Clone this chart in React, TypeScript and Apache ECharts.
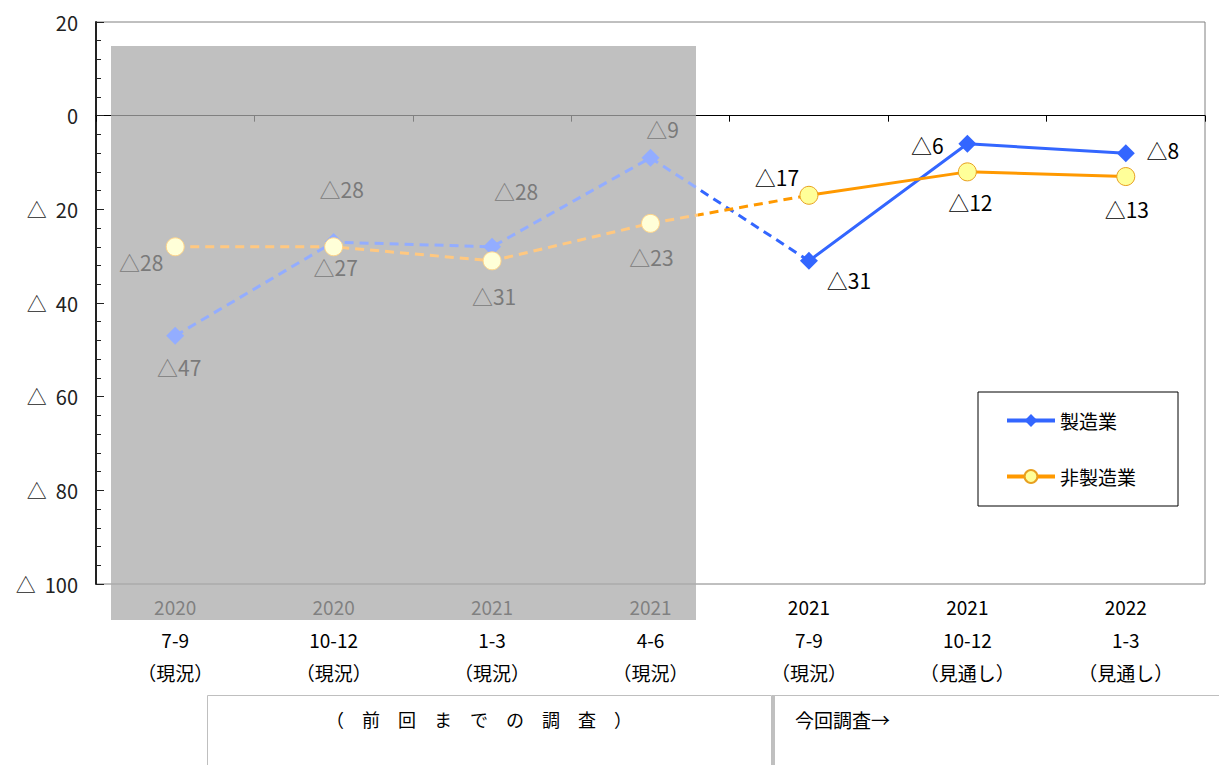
import React, { useEffect, useRef } from "react";
import * as echarts from "echarts";

// Quarterly business sentiment (DI), manufacturing vs non-manufacturing
const years = ["2020", "2020", "2021", "2021", "2021", "2021", "2022"];
const quarters = ["7-9", "10-12", "1-3", "4-6", "7-9", "10-12", "1-3"];
const phases = ["（現況）", "（現況）", "（現況）", "（現況）", "（現況）", "（見通し）", "（見通し）"];

// Previous surveys (first four quarters) and the current survey (last three)
const mfgPrev = [-47, -27, -28, -9];
const mfgCurr = [-31, -6, -8];
const nonMfgPrev = [-28, -28, -31, -23];
const nonMfgCurr = [-17, -12, -13];

const yTicks = [20, 0, -20, -40, -60, -80, -100];

// label offsets [dx, dy] from each point's centre
const mfgLabelOffsets = [[4, 31], [2, 25], [24, -56], [12, -29], [40, 19], [-40, 1], [37, -3]];
const nonMfgLabelOffsets = [[-34, 15], [8, -58], [2, 35], [1, 34], [-32, -18], [3, 30], [1, 32]];

const BLUE = "#3366ff";
const BLUE_FADED = "#93adff";
const ORANGE = "#ff9900";
const ORANGE_FADED = "#ffc880";
const FONT = "'Noto Sans CJK JP', 'Noto Sans', sans-serif";

const tri = (v: number) => (v < 0 ? "△" + Math.abs(v) : String(v));

const nCat = years.length;
const nPrev = mfgPrev.length;

function padded(values: number[], start: number) {
  const out: (number | string)[] = Array(nCat).fill("-");
  values.forEach((v, i) => (out[start + i] = v));
  return out;
}

function labelled(values: number[], start: number, offsets: number[][], color: string) {
  const out: any[] = Array(nCat).fill("-");
  values.forEach((v, i) => {
    out[start + i] = {
      value: v,
      label: {
        show: true,
        position: "inside",
        offset: offsets[start + i],
        formatter: () => tri(v),
        color,
        fontSize: 21,
        fontFamily: FONT,
      },
    };
  });
  return out;
}

function bridgeGradient(faded: string, full: string) {
  return new echarts.graphic.LinearGradient(0, 0, 1, 0, [
    { offset: 0, color: faded },
    { offset: 0.3, color: faded },
    { offset: 0.3, color: full },
    { offset: 1, color: full },
  ]);
}

export default function App() {
  const ref = useRef<HTMLDivElement>(null);

  useEffect(() => {
    if (!ref.current) return;
    const chart = echarts.init(ref.current, null, { renderer: "svg" });

    const option: any = {
      animation: false,
      backgroundColor: "#ffffff",
      textStyle: { fontFamily: FONT },
      grid: {
        left: 96,
        right: 14,
        top: 22,
        bottom: 181,
        show: true,
        borderColor: "#808080",
        borderWidth: 1,
        backgroundColor: "transparent",
      },
      legend: {
        data: ["製造業", "非製造業"],
        orient: "vertical",
        left: 978,
        top: 392,
        padding: [19, 42, 20, 27],
        itemGap: 37,
        itemWidth: 48,
        itemHeight: 16,
        itemTextGap: 6,
        borderColor: "#000",
        borderWidth: 1,
        backgroundColor: "#fff",
        lineStyle: { width: 4 },
        textStyle: { fontSize: 19, color: "#000", fontFamily: FONT },
      },
      xAxis: {
        type: "category",
        data: years.map((y, i) => `${y}\n${quarters[i]}\n${phases[i]}`),
        boundaryGap: true,
        axisLine: { lineStyle: { color: "#000", width: 1 } },
        axisTick: { show: true, inside: false, length: 6, lineStyle: { color: "#000" } },
        axisLabel: {
          color: "#000",
          fontSize: 19,
          lineHeight: 33,
          margin: 6,
          fontFamily: FONT,
        },
        splitLine: { show: false },
      },
      yAxis: {
        type: "value",
        min: yTicks[yTicks.length - 1],
        max: yTicks[0],
        interval: 20,
        axisLine: { show: true, lineStyle: { color: "#222", width: 2 } },
        axisTick: { show: true, inside: true, length: 8, lineStyle: { color: "#222" } },
        minorTick: { show: true, splitNumber: 5, length: 5, lineStyle: { color: "#222" } },
        axisLabel: {
          color: "#222",
          fontSize: 20,
          margin: 18,
          fontFamily: FONT,
          formatter: (v: number) => (v < 0 ? "△  " + Math.abs(v) : String(v)),
        },
        splitLine: { show: false },
      },
      graphic: [
        // shaded band over the previous surveys
        {
          type: "rect",
          z: 1,
          shape: { x: 111, y: 46, width: 585, height: 574 },
          style: { fill: "rgb(171,171,171)", opacity: 0.75 },
          silent: true,
        },
        // boxes below the axis
        {
          type: "rect",
          z: 1,
          shape: { x: 207.5, y: 695.5, width: 564, height: 100 },
          style: { fill: "none", stroke: "#bfbfbf", lineWidth: 1 },
          silent: true,
        },
        {
          type: "line",
          z: 1,
          shape: { x1: 773.5, y1: 695, x2: 773.5, y2: 765 },
          style: { stroke: "#c0c0c0", lineWidth: 3 },
          silent: true,
        },
        {
          type: "line",
          z: 1,
          shape: { x1: 775, y1: 695.5, x2: 1219, y2: 695.5 },
          style: { stroke: "#bfbfbf", lineWidth: 1 },
          silent: true,
        },
        {
          type: "text",
          z: 1,
          x: 479,
          y: 719,
          style: {
            text: "（　前　回　ま　で　の　調　査　）",
            fill: "#000",
            font: `18px ${FONT}`,
            align: "center",
            verticalAlign: "middle",
          },
        },
        {
          type: "text",
          z: 1,
          x: 795,
          y: 719,
          style: {
            text: "今回調査→",
            fill: "#000",
            font: `19px ${FONT}`,
            align: "left",
            verticalAlign: "middle",
          },
        },
      ],
      series: [
        // zero reference line (sits under the shaded band)
        {
          type: "line",
          data: [],
          z: 0,
          silent: true,
          markLine: {
            silent: true,
            z: 0,
            symbol: "none",
            label: { show: false },
            lineStyle: { color: "#000", width: 1, type: "solid" },
            data: [{ yAxis: 0 }],
          },
        },
        // links from the last previous survey to the current one
        {
          name: "mfg-link",
          type: "line",
          data: padded([mfgPrev[nPrev - 1], mfgCurr[0]], nPrev - 1),
          showSymbol: false,
          lineStyle: { color: bridgeGradient(BLUE_FADED, BLUE), width: 3, type: [9, 6] },
          z: 2,
        },
        {
          name: "nonmfg-link",
          type: "line",
          data: padded([nonMfgPrev[nPrev - 1], nonMfgCurr[0]], nPrev - 1),
          showSymbol: false,
          lineStyle: { color: bridgeGradient(ORANGE_FADED, ORANGE), width: 3, type: [9, 6] },
          z: 2,
        },
        // previous surveys
        {
          name: "mfg-prev",
          type: "line",
          data: labelled(mfgPrev, 0, mfgLabelOffsets, "#7a7a7a"),
          symbol: "diamond",
          symbolSize: 18,
          itemStyle: { color: BLUE_FADED },
          lineStyle: { color: BLUE_FADED, width: 3, type: [9, 6] },
          z: 3,
        },
        {
          name: "nonmfg-prev",
          type: "line",
          data: labelled(nonMfgPrev, 0, nonMfgLabelOffsets, "#7a7a7a"),
          symbol: "circle",
          symbolSize: 18,
          itemStyle: { color: "#ffffd8", borderColor: "#ffd488", borderWidth: 1 },
          lineStyle: { color: ORANGE_FADED, width: 3, type: [9, 6] },
          z: 3,
        },
        // current survey
        {
          name: "製造業",
          type: "line",
          data: labelled(mfgCurr, nPrev, mfgLabelOffsets, "#000"),
          symbol: "diamond",
          symbolSize: 18,
          itemStyle: { color: BLUE },
          lineStyle: { color: BLUE, width: 3 },
          z: 3,
        },
        {
          name: "非製造業",
          type: "line",
          data: labelled(nonMfgCurr, nPrev, nonMfgLabelOffsets, "#000"),
          symbol: "circle",
          symbolSize: 18,
          itemStyle: { color: "#ffff99", borderColor: "#e8a020", borderWidth: 1 },
          lineStyle: { color: ORANGE, width: 3 },
          z: 3,
        },
      ],
    };

    chart.setOption(option);
    return () => chart.dispose();
  }, []);

  return (
    <div
      ref={ref}
      style={{ position: "fixed", left: 0, top: 0, width: 1219, height: 765, background: "#fff" }}
    />
  );
}
